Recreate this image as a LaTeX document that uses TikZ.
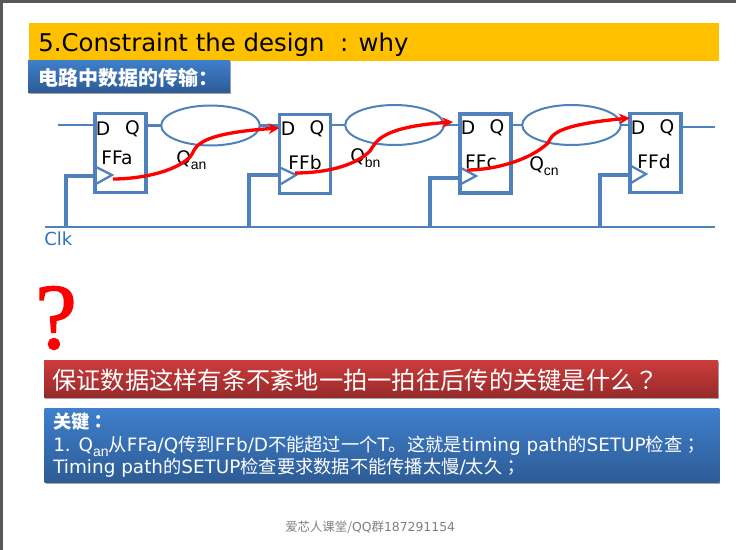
\documentclass[tikz,border=0pt]{standalone}
\usepackage{fontspec}
\setmainfont{DejaVu Sans}
\newfontfamily\cjk{Noto Sans CJK SC}
\newfontfamily\cjkp{Noto Sans CJK TC}
\newfontfamily\qfont[FakeBold=1.6]{Liberation Serif}
\newfontfamily\subfont{Liberation Sans}
\usetikzlibrary{arrows.meta,shapes.geometric,shadows}
\definecolor{flow}{HTML}{4F81BD}
\definecolor{bannerY}{HTML}{FFC000}
\definecolor{frameG}{HTML}{595959}
\definecolor{clkblue}{HTML}{2E75B6}
\definecolor{blue1}{HTML}{3F7FCC}
\definecolor{blue2}{HTML}{2D5C96}
\definecolor{red1}{HTML}{CD3B3B}
\definecolor{red2}{HTML}{962B2B}
\newcommand{\qsub}[1]{Q\raisebox{-0.55ex}{\subfont\fontsize{10.5pt}{10.5pt}\selectfont #1}}
\newcommand{\cj}[1]{{\cjk\fontsize{13.7pt}{13.7pt}\selectfont #1}}
\newcommand{\cjp}[1]{{\cjkp\fontsize{13.7pt}{13.7pt}\selectfont #1}}
\tikzset{
  ffbox/.style={draw=flow,line width=2.6pt,minimum width=38.5pt,minimum height=59.5pt,inner sep=0pt,outer sep=0pt},
  cloud/.style={ellipse,draw=flow,line width=1.5pt,minimum width=74pt,minimum height=30pt,inner sep=0pt,outer sep=0pt},
  wire/.style={draw=flow,line width=1.7pt},
  clkwire/.style={draw=flow,line width=2.4pt},
  tri/.style={draw=flow,line width=1.7pt},
  path/.style={draw=red,line width=2.5pt,-{Stealth[length=8pt,width=8pt]}},
  lab/.style={inner sep=0pt,font=\fontsize{14pt}{14pt}\selectfont,text=black},
  qlab/.style={inner sep=0pt,anchor=base west,font=\fontsize{14pt}{14pt}\selectfont,text=black},
  bluegrad/.style={top color=blue1,bottom color=blue2,drop shadow={shadow xshift=0.8pt,shadow yshift=-1.4pt,opacity=.35,fill=black}},
  anstext/.style={anchor=base west,inner sep=0pt,text=white,font=\fontsize{13.8pt}{13.8pt}\selectfont},
}
\begin{document}
\begin{tikzpicture}[x=0.75pt,y=-0.75pt]
\useasboundingbox (0,0) rectangle (736,550);
\fill[white] (0,0) rectangle (736,550);
\fill[frameG] (0,0) rectangle (736,3);
\fill[frameG] (0,0) rectangle (3,550);
% banners
\node[fill=bannerY,minimum width=517.5pt,minimum height=28.5pt,inner sep=0pt,outer sep=0pt] (title) at (374,42) {};
\node[anchor=base west,inner sep=0pt,font=\fontsize{18.3pt}{18.3pt}\selectfont] (titletext) at (38,51) {5.Constraint the design\ \ : why};
\node[bluegrad,minimum width=151.5pt,minimum height=24pt,inner sep=0pt,outer sep=0pt] (sub) at (129,76) {};
\node[anchor=west,inner sep=0pt,text=white,font=\cjk\bfseries\fontsize{15pt}{15pt}\selectfont] (subtext) at (38,78) {电路中数据的传输：};
% flip-flops
\node[ffbox] (ffa) at (120.5,153) {};
\node[ffbox] (ffb) at (305,154) {};
\node[ffbox] (ffc) at (485.5,153.5) {};
\node[ffbox] (ffd) at (655.5,153) {};
% clouds
\node[cloud] (ca) at (210.5,125.5) {};
\node[cloud] (cb) at (394.5,125) {};
\node[cloud] (cc) at (571.5,125) {};
% named free ends
\coordinate (inA) at (58,125);
\coordinate (outD) at (715,127);
\coordinate (clkL) at (45,227);
\coordinate (clkR) at (715,227);
\coordinate (tapA) at (66,227);
\coordinate (tapB) at (249,227);
\coordinate (tapC) at (430,227);
\coordinate (tapD) at (600,227);
\coordinate (ckA) at (94,176);
\coordinate (ckB) at (279,175);
\coordinate (ckC) at (459,178);
\coordinate (ckD) at (629,175);
% wires
\draw[wire] (inA) -- (inA -| ffa.west);
\draw[wire] (ca.west -| ffa.east) -- (ca.west);
\draw[wire] (ca.east) -- (ca.east -| ffb.west);
\draw[wire] (cb.west -| ffb.east) -- (cb.west);
\draw[wire] (cb.east) -- (cb.east -| ffc.west);
\draw[wire] (cc.west -| ffc.east) -- (cc.west);
\draw[wire] (cc.east) -- (cc.east -| ffd.west);
\draw[wire] (outD -| ffd.east) -- (outD);
\draw[wire] (clkL) -- (clkR);
\draw[clkwire] (tapA) |- (ckA);
\draw[clkwire] (tapB) |- (ckB);
\draw[clkwire] (tapC) |- (ckC);
\draw[clkwire] (tapD) |- (ckD);
% clock triangles
\coordinate (tipA) at (112,175);
\coordinate (tipB) at (296,175);
\coordinate (tipC) at (476,176);
\coordinate (tipD) at (646,174);
\draw[tri] (96,167) -- (tipA) -- (96,184);
\draw[tri] (281,168) -- (tipB) -- (281,184);
\draw[tri] (461,168) -- (tipC) -- (461,184);
\draw[tri] (631,166) -- (tipD) -- (631,183);
% labels
\node[lab] (da) at (103,129) {D};
\node[lab] (qa) at (132.5,129) {Q};
\node[lab] (na) at (117,158) {FFa};
\node[lab] (db) at (288,129) {D};
\node[lab] (qb) at (317,129) {Q};
\node[lab] (nb) at (305,163) {FFb};
\node[lab] (dc) at (468,128) {D};
\node[lab] (qc) at (497,128) {Q};
\node[lab] (nc) at (481,162) {FFc};
\node[lab] (dd) at (638,128) {D};
\node[lab] (qd) at (667,128) {Q};
\node[lab] (nd) at (654,162) {FFd};
\node[qlab] (qan) at (176,164) {\qsub{an}};
\node[qlab] (qbn) at (350,162) {\qsub{bn}};
\node[qlab] (qcn) at (529,170) {\qsub{cn}};
\node[anchor=base west,inner sep=0pt,text=clkblue,font=\fontsize{13.5pt}{13.5pt}\selectfont] (clk) at (44,245) {Clk};
% timing paths
\coordinate (sA) at (113,179);
\coordinate (sB) at (295,173);
\coordinate (sC) at (467,170);
\coordinate (mA) at (190,157);
\coordinate (mB) at (370,151);
\coordinate (mC) at (548,143);
\draw[path] (sA) .. controls (140,179) and (175,172) .. (mA) .. controls (197,150) and (188,134) .. (ffb.west |- 0,128);
\draw[path] (sB) .. controls (325,173) and (355,166) .. (mB) .. controls (376,142) and (380,127) .. (453,122);
\draw[path] (sC) .. controls (495,170) and (530,160) .. (mC) .. controls (552,135) and (555,125) .. (ffd.west |- 0,118);
% question
\node[inner sep=0pt,text=red,font=\qfont\fontsize{70pt}{70pt}\selectfont] (qm) at (56,318) {?};
% red banner
\node[top color=red1,bottom color=red2,drop shadow={shadow xshift=0.8pt,shadow yshift=-1.2pt,opacity=.35,fill=black},minimum width=505.5pt,minimum height=28pt,inner sep=0pt,outer sep=0pt] (ask) at (381,379) {};
\node[anchor=west,inner sep=0pt,text=white,font=\cjk\fontsize{18.2pt}{18.2pt}\selectfont] (asktext) at (52,380) {保证数据这样有条不紊地一拍一拍往后传的关键是什么{\cjkp ？}};
% answer box
\node[bluegrad,minimum width=506pt,minimum height=55.5pt,inner sep=0pt,outer sep=0pt] (ans) at (382,445) {};
\node[anchor=base west,inner sep=0pt,text=white,font=\cjk\bfseries\fontsize{13.7pt}{13.7pt}\selectfont] (k1) at (53,428) {关键{\cjkp\bfseries ：}};
\node[anstext] (k2) at (53,451) {1. Q\raisebox{-0.55ex}{\subfont\fontsize{10.5pt}{10.5pt}\selectfont an}\cj{从}FFa/Q\cj{传到}FFb/D\cj{不能超过一个}T\cj{。这就是}timing path\cj{的}SETUP\cj{检查}\cjp{；}};
\node[anstext] (k3) at (53,473) {Timing path\cj{的}SETUP\cj{检查要求数据不能传播太慢}/\cj{太久}\cjp{；}};
% footer
\node[anchor=base west,inner sep=0pt,text=gray,font=\fontsize{9.3pt}{9.3pt}\selectfont] (foot) at (285,531) {{\cjk 爱芯人课堂/}QQ{\cjk 群}187291154};
\end{tikzpicture}
\end{document}
